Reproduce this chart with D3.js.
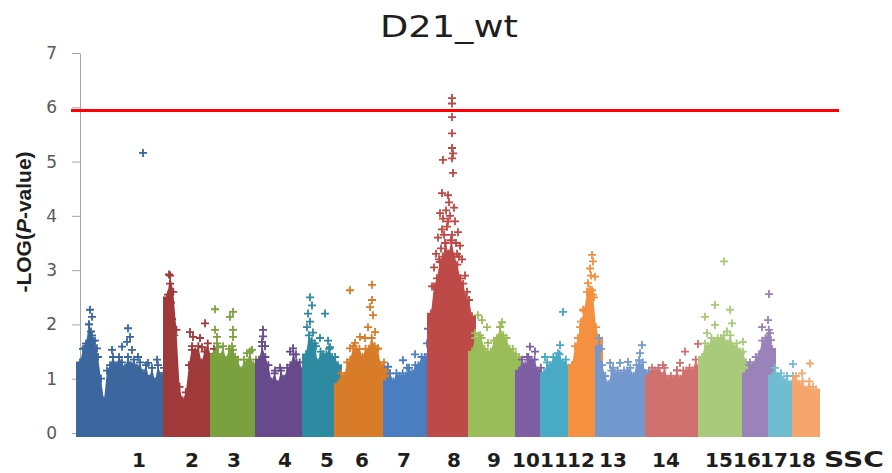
<!DOCTYPE html>
<html>
<head>
<meta charset="utf-8">
<script src="https://cdn.jsdelivr.net/npm/d3@7"></script>
<style>
  body { margin: 0; background: #fff; }
  svg { display: block; }
</style>
</head>
<body>
<svg id="chart" width="892" height="473"></svg>
<script>
// Chromosome names, relative lengths and label anchors (same units as SNP positions)
const chromosomes = ["1","2","3","4","5","6","7","8","9","10","11","12","13","14","15","16","17","18"];
const chromLength = [87,47,45,47,32,49,44,41,47,25,28,27,50,53,44,26,24,20];
const labelPos = [59,112,154,205,247,282,324,374,414,446,474,501,533,586,639,667,694,722];
const yTicks = [0,1,2,3,4,5,6,7];
const threshold = 5.94;

const colors = ["#3b679e","#a03a3a","#7ba13f","#664a8c","#2e8aa1","#d97c2a",
                "#4a7ec0","#bd4a47","#9bbd59","#7f5fa3","#48aac5","#f49040",
                "#7398cd","#d0716f","#a9c97b","#9a83b8","#70bcd1","#f6a56d"];

// Upper edge of the dense SNP cloud, evenly spaced along each chromosome
const cloudTop = [
  [1.3,1.55,1.65,2.0,1.8,1.7,1.4,1.0,0.6,1.15,1.25,1.4,1.25,1.4,1.3,1.2,1.4,1.25,1.35,1.2,1.3,1.1,1.25,1.0,1.2,0.95,1.25,1.05,1.2,1.0],
  [2.5,2.9,2.6,1.9,0.85,0.6,0.75,1.25,1.6,1.5,1.6,1.3,1.5,1.65,1.4,1.55],
  [1.45,1.65,1.4,1.6,1.35,1.55,1.6,1.4,1.35,1.15,1.35,1.3,1.5,1.25,1.35,1.2],
  [1.35,1.6,1.4,1.25,0.95,1.1,0.9,1.15,1.0,1.2,1.25,1.45,1.3,1.3,1.15,1.2],
  [1.45,1.8,1.7,1.65,1.3,1.5,1.45,1.45,1.55,1.4,1.4,1.25],
  [0.9,1.1,1.05,1.3,1.35,1.6,1.55,1.55,1.4,1.55,1.55,1.75,1.6,1.55,1.25,1.3,1.15],
  [0.95,1.1,0.95,1.1,1.05,1.1,1.05,1.2,1.1,1.25,1.25,1.4,1.4,1.45,1.25],
  [2.2,2.7,2.85,3.15,3.25,3.5,3.3,3.55,3.25,3.1,2.85,2.75,2.5,2.45,2.15],
  [1.5,1.75,1.75,1.75,1.55,1.5,1.5,1.7,1.75,1.95,1.8,1.75,1.55,1.55,1.45,1.4],
  [1.15,1.35,1.25,1.4,1.35,1.35,1.15,1.2,1.05],
  [1.1,1.3,1.25,1.4,1.4,1.45,1.3,1.35,1.2,1.25],
  [1.25,1.6,1.75,2.05,2.25,2.6,2.65,2.55,1.95,1.75],
  [1.6,1.25,1.05,0.9,1.15,1.1,1.15,1.1,1.15,1.15,1.2,1.05,1.25,1.25,1.3,1.1,1.15],
  [1.05,1.2,1.15,1.2,1.05,1.2,1.0,1.05,1.0,1.15,1.0,1.15,1.15,1.2,1.15,1.35,1.2,1.25],
  [1.4,1.65,1.6,1.75,1.7,1.75,1.75,1.8,1.65,1.8,1.6,1.65,1.5,1.5,1.3],
  [1.1,1.25,1.25,1.4,1.45,1.7,1.75,1.9,1.55],
  [1.05,1.2,1.05,1.1,0.95,1.05,0.9,1.05,0.9],
  [1.05,0.9,0.95,0.8,0.95,0.75,0.8]
];

// Individual SNPs standing out of the cloud: [chromosome, position, -log10(p)]
const peakSnps = [
  [1,63,5.16],[1,10,2.27],[1,12,2.14],[1,9,2.0],[1,11,1.87],[1,17,1.56],[1,5,1.56],[1,13,1.7],
  [1,32,1.53],[1,42,1.59],[1,48,1.93],[1,50,1.77],[1,47,1.68],[1,52,1.53],[1,58,1.4],[1,68,1.29],[1,77,1.35],
  [2,2,2.92],[2,3,2.75],[2,1,2.55],[2,4,2.4],[2,2,2.25],[2,5,2.1],[2,6,1.95],[2,7,1.8],[2,3,1.65],
  [2,23,1.86],[2,26,1.77],[2,33,1.75],[2,38,2.02],[2,35,1.58],[2,25,1.53],
  [3,1,2.28],[3,1,1.9],[3,3,1.77],[3,19,2.23],[3,16,2.14],[3,19,1.9],[3,19,1.77],[3,4,1.58],[3,19,1.53],[3,33,1.47],[3,38,1.53],
  [4,4,1.9],[4,4,1.78],[4,3,1.68],[4,6,1.6],[4,21,1.2],[4,16,1.15],[4,34,1.56],[4,37,1.45],[4,31,1.5],
  [5,4,2.5],[5,6,2.35],[5,2,2.2],[5,4,2.05],[5,1,1.95],[5,7,1.85],[5,19,2.2],[5,14,1.75],[5,22,1.7],[5,24,1.58],[5,10,1.6],
  [6,12,2.63],[6,34,2.73],[6,34,2.45],[6,32,2.32],[6,35,2.17],[6,30,1.95],[6,37,1.86],[6,27,1.75],[6,22,1.77],[6,40,1.56],[6,17,1.66],[6,12,1.56],
  [7,1,1.22],[7,16,1.34],[7,28,1.45],[7,20,1.2],[7,40,1.65],[7,41,1.92],
  [8,21,6.17],[8,21,6.07],[8,21,5.82],[8,21,5.52],[8,21,5.25],[8,22,5.15],[8,12,5.03],[8,22,4.79],[8,11,4.42],[8,17,4.38],
  [8,21,5.06],[8,9,4.05],[8,12,3.95],[8,19,4.0],[8,24,3.9],[8,16,3.8],[8,27,3.7],[8,7,3.6],[8,21,3.65],[8,14,3.5],
  [8,29,3.45],[8,5,3.3],[8,26,3.3],[8,18,4.25],[8,23,4.15],[8,11,3.75],[8,31,3.2],[8,3,3.05],[8,34,2.9],[8,1,2.7],[8,36,2.6],
  [8,15,4.1],[8,20,3.55],[8,25,3.5],[8,13,3.65],[8,10,3.4],[8,28,3.25],[8,8,3.2],[8,17,3.9],
  [9,6,2.17],[9,10,2.08],[9,15,1.95],[9,3,1.84],[9,8,1.8],[9,30,2.04],[9,28,1.95],[9,16,1.66],
  [10,11,1.59],[10,16,1.5],[10,8,1.4],
  [11,1,1.4],[11,19,2.23],[11,16,1.62],[11,14,1.47],
  [12,20,3.28],[12,21,3.16],[12,18,3.03],[12,23,2.88],[12,16,2.76],[12,20,2.63],[12,11,2.27],[12,8,1.95],[12,19,2.9],[12,22,2.5],
  [13,0,1.75],[13,2,1.55],[13,11,1.29],[13,21,1.29],[13,29,1.31],[13,43,1.62],[13,41,1.47],[13,40,1.34],[13,14,1.2],
  [14,14,1.25],[14,31,1.29],[14,36,1.5],[14,49,1.64],[14,28,1.16],[14,11,1.1],
  [15,22,3.16],[15,13,2.36],[15,3,2.14],[15,28,2.27],[15,13,1.99],[15,25,1.87],[15,30,2.02],[15,5,1.84],[15,41,1.68],[15,39,1.47],[15,20,1.6],
  [16,23,2.56],[16,22,2.08],[16,16,1.95],[16,24,1.84],[16,4,1.3],[16,25,1.71],
  [17,21,1.27],[17,8,1.03],
  [18,14,1.28],[18,6,1.1],[18,17,0.85]
];

const svg = d3.select("#chart");
const total = d3.sum(chromLength);
const offsets = chromLength.map((d, i) => d3.sum(chromLength.slice(0, i)));

const x = d3.scaleLinear().domain([0, total]).range([80, 816]);
const y = d3.scaleLinear().domain([0, 7]).range([433, 53]);
const R = 4;                       // half size of a "+" marker
const cross = `M${-R},0H${R}M0,${-R}V${R}`;

// Title
svg.append("text")
  .attr("x", 449).attr("y", 37)
  .attr("text-anchor", "middle")
  .attr("font-family", "DejaVu Sans")
  .attr("font-size", 30)
  .attr("textLength", 138)
  .attr("lengthAdjust", "spacingAndGlyphs")
  .attr("fill", "#1e1e1e")
  .text("D21_wt");

// Y axis
const yAxis = svg.append("g")
  .attr("transform", "translate(80,0)")
  .call(d3.axisLeft(y).tickValues(yTicks).tickFormat(d3.format("d"))
        .tickSize(8).tickSizeOuter(0).tickPadding(15));
yAxis.select(".domain").attr("stroke", "#a6a6a6");
yAxis.selectAll(".tick line").attr("stroke", "#a6a6a6");
yAxis.selectAll(".tick text")
  .attr("font-family", "DejaVu Sans")
  .attr("font-size", 17)
  .attr("fill", "#595959");

// Y axis title
const yTitle = svg.append("text")
  .attr("transform", "translate(31,222) rotate(-90)")
  .attr("text-anchor", "middle")
  .attr("font-family", "Liberation Sans")
  .attr("font-weight", "bold")
  .attr("font-size", 21)
  .attr("fill", "#1e1e1e");
yTitle.append("tspan").text("-LOG(");
yTitle.append("tspan").attr("font-style", "italic").text("P");
yTitle.append("tspan").text("-value)");

// SNP clouds and markers, one group per chromosome
const areaGen = d3.area().x(d => d[0]).y0(y(0) + R).y1(d => d[1]);

chromosomes.forEach((name, k) => {
  const g = svg.append("g").attr("class", "chr chr" + name);
  const top = cloudTop[k];
  const n = top.length;
  const pts = top.map((v, i) => [offsets[k] + chromLength[k] * i / (n - 1), v]);

  const px = pts.map(d => [x(d[0]), y(d[1])]);
  px.unshift([px[0][0] - R, px[0][1]]);
  px.push([px[px.length - 1][0] + R, px[px.length - 1][1]]);

  g.append("path")
    .attr("d", areaGen(px))
    .attr("fill", colors[k]);

  const peaks = peakSnps.filter(d => d[0] === k + 1).map(d => [offsets[k] + d[1], d[2]]);

  g.selectAll("path.snp")
    .data(pts.concat(peaks))
    .join("path")
    .attr("class", "snp")
    .attr("d", cross)
    .attr("transform", d => `translate(${x(d[0])},${y(d[1])})`)
    .attr("fill", "none")
    .attr("stroke", colors[k])
    .attr("stroke-width", 1.8);
});

// Genome-wide significance line
svg.append("line")
  .attr("x1", 71).attr("x2", 839)
  .attr("y1", y(threshold)).attr("y2", y(threshold))
  .attr("stroke", "#ff0000")
  .attr("stroke-width", 3);

// Chromosome labels
svg.append("g")
  .selectAll("text")
  .data(chromosomes)
  .join("text")
  .attr("x", (d, i) => x(labelPos[i]))
  .attr("y", 467)
  .attr("text-anchor", "middle")
  .attr("font-family", "DejaVu Sans")
  .attr("font-weight", "bold")
  .attr("font-size", 20)
  .attr("fill", "#1e1e1e")
  .text(d => d);

svg.append("text")
  .attr("x", 854).attr("y", 467)
  .attr("text-anchor", "middle")
  .attr("font-family", "DejaVu Sans")
  .attr("font-weight", "bold")
  .attr("font-size", 21)
  .attr("textLength", 60)
  .attr("lengthAdjust", "spacingAndGlyphs")
  .attr("fill", "#1e1e1e")
  .text("SSC");
</script>
</body>
</html>
